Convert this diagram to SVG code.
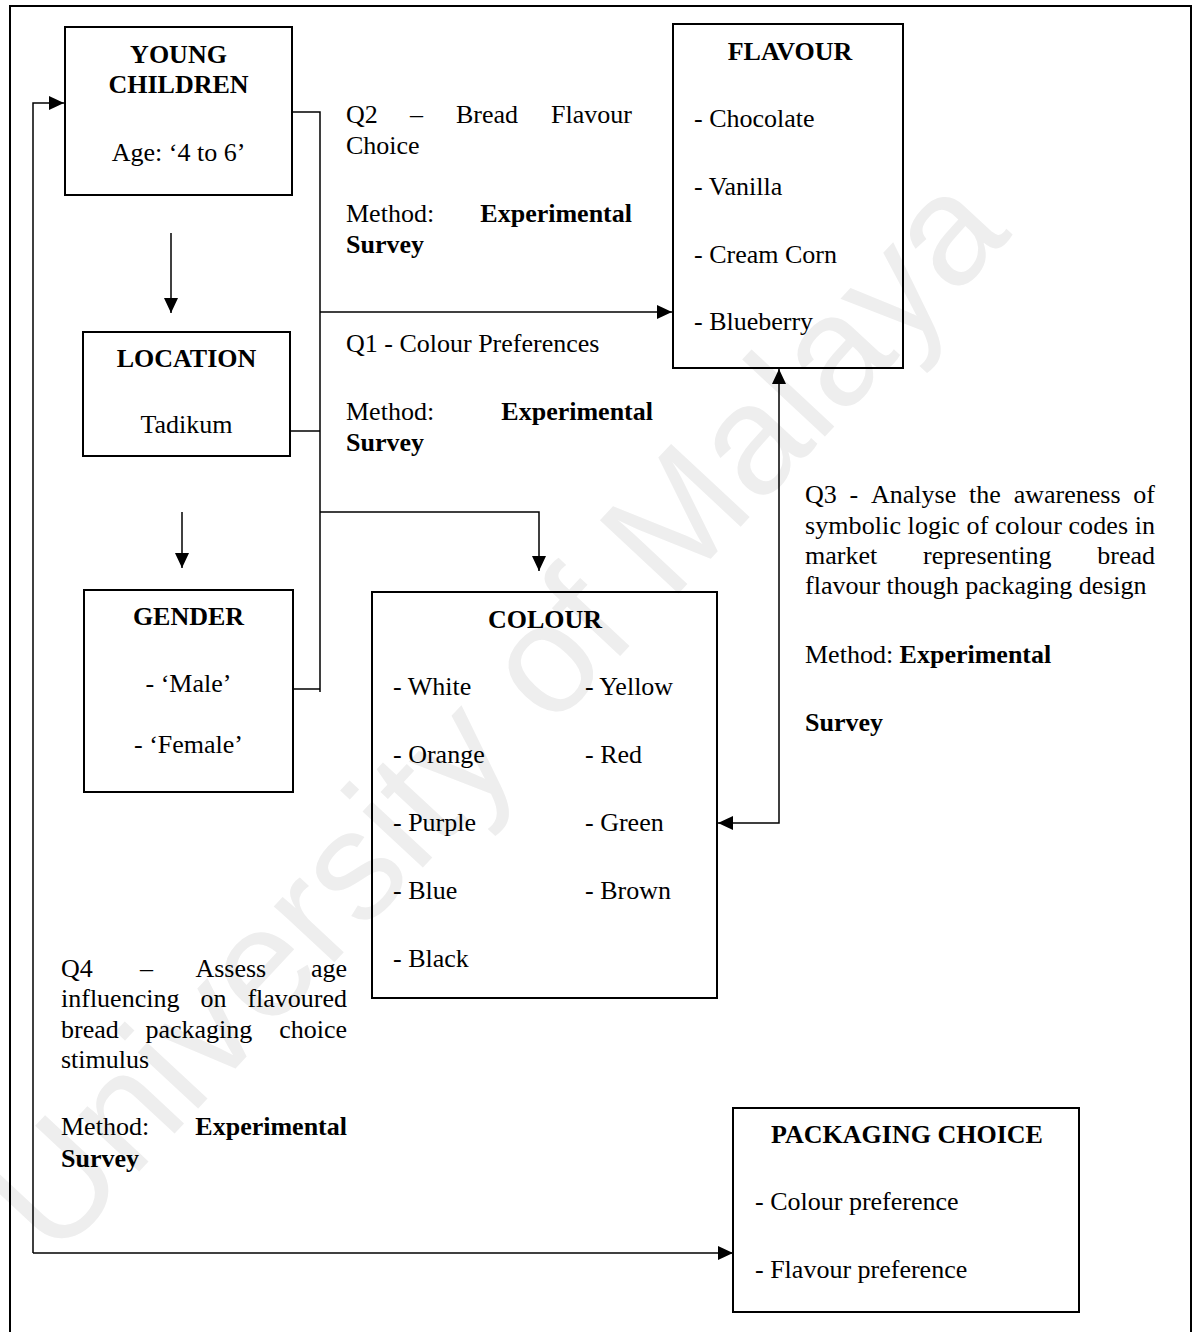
<svg xmlns="http://www.w3.org/2000/svg" width="1197" height="1332" viewBox="0 0 1197 1332">
<style>
  .box { fill: none; stroke: #000; stroke-width: 2; }
  .line { fill: none; stroke: #000; stroke-width: 1.5; }
  text { font-family: "Liberation Serif", "Times New Roman", serif; font-size: 26px; fill: #000; }
  .b { font-weight: bold; }
  .c { text-anchor: middle; }
  .e { text-anchor: end; }
  .wm { font-family: "Liberation Sans", Arial, sans-serif; font-size: 156px; fill: #eeeeee; }
</style>
<defs>
  <marker id="arr" markerWidth="16" markerHeight="14" refX="15" refY="7" orient="auto-start-reverse" markerUnits="userSpaceOnUse">
    <path d="M0,0 L15,7 L0,14 Z" fill="#000"/>
  </marker>
</defs>
<rect width="1197" height="1332" fill="#fff"/>
<g id="watermark">
  <text class="wm" x="55" y="1262" transform="rotate(-47 55 1262)">University of Malaya</text>
</g>
<rect x="10" y="6" width="1181" height="1340" class="box"/>
<g id="connectors">
  <path class="line" d="M33,1253 V103 H64" marker-end="url(#arr)"/>
  <path class="line" d="M33,1253 H733" marker-end="url(#arr)"/>
  <path class="line" d="M292,112 H320 V692"/>
  <path class="line" d="M290,431 H320"/>
  <path class="line" d="M293,689 H320"/>
  <path class="line" d="M320,312 H672" marker-end="url(#arr)"/>
  <path class="line" d="M320,512 H539 V571" marker-end="url(#arr)"/>
  <path class="line" d="M171,233 V313" marker-end="url(#arr)"/>
  <path class="line" d="M182,512 V568" marker-end="url(#arr)"/>
  <path class="line" d="M718,823 H779 V369" marker-start="url(#arr)" marker-end="url(#arr)"/>
</g>
<g id="young-children">
  <rect x="65" y="27" width="227" height="168" class="box"/>
  <text class="b c" x="178.5" y="63">YOUNG</text>
  <text class="b c" x="178.5" y="93">CHILDREN</text>
  <text class="c" x="178.5" y="161">Age: ‘4 to 6’</text>
</g>
<g id="location">
  <rect x="83" y="332" width="207" height="124" class="box"/>
  <text class="b c" x="186.5" y="367">LOCATION</text>
  <text class="c" x="186.5" y="433">Tadikum</text>
</g>
<g id="gender">
  <rect x="84" y="590" width="209" height="202" class="box"/>
  <text class="b c" x="188.5" y="625">GENDER</text>
  <text class="c" x="188.5" y="692">- ‘Male’</text>
  <text class="c" x="188.5" y="753">- ‘Female’</text>
</g>
<g id="flavour">
  <rect x="673" y="24" width="230" height="344" class="box"/>
  <text class="b c" x="790" y="60">FLAVOUR</text>
  <text x="694" y="127">- Chocolate</text>
  <text x="694" y="195">- Vanilla</text>
  <text x="694" y="263">- Cream Corn</text>
  <text x="694" y="330">- Blueberry</text>
</g>
<g id="colour">
  <rect x="372" y="592" width="345" height="406" class="box"/>
  <text class="b c" x="545" y="628">COLOUR</text>
  <text x="393" y="695">- White</text>
  <text x="393" y="763">- Orange</text>
  <text x="393" y="831">- Purple</text>
  <text x="393" y="899">- Blue</text>
  <text x="393" y="967">- Black</text>
  <text x="585" y="695">- Yellow</text>
  <text x="585" y="763">- Red</text>
  <text x="585" y="831">- Green</text>
  <text x="585" y="899">- Brown</text>
</g>
<g id="packaging-choice">
  <rect x="733" y="1108" width="346" height="204" class="box"/>
  <text class="b c" x="907" y="1143">PACKAGING CHOICE</text>
  <text x="755" y="1210">- Colour preference</text>
  <text x="755" y="1278">- Flavour preference</text>
</g>
<g id="labels">
  <g id="q2">
    <text x="346" y="123">Q2</text>
    <text x="410" y="123">–</text>
    <text x="456" y="123">Bread</text>
    <text class="e" x="632" y="123">Flavour</text>
    <text x="346" y="154">Choice</text>
    <text x="346" y="222">Method:</text>
    <text class="b e" x="632" y="222">Experimental</text>
    <text class="b" x="346" y="253">Survey</text>
  </g>
  <g id="q1">
    <text x="346" y="352">Q1 - Colour Preferences</text>
    <text x="346" y="420">Method:</text>
    <text class="b e" x="653" y="420">Experimental</text>
    <text class="b" x="346" y="451">Survey</text>
  </g>
  <g id="q3">
    <text x="805" y="503">Q3</text>
    <text x="849.6" y="503">-</text>
    <text x="871" y="503">Analyse</text>
    <text x="969" y="503">the</text>
    <text x="1013.7" y="503">awareness</text>
    <text class="e" x="1155" y="503">of</text>
    <text x="805" y="534" textLength="350" lengthAdjust="spacing">symbolic logic of colour codes in</text>
    <text x="805" y="564">market</text>
    <text x="923" y="564">representing</text>
    <text class="e" x="1155" y="564">bread</text>
    <text x="805" y="594">flavour though packaging design</text>
    <text x="805" y="663">Method: <tspan class="b">Experimental</tspan></text>
    <text class="b" x="805" y="731">Survey</text>
  </g>
  <g id="q4">
    <text x="61" y="977">Q4</text>
    <text x="140" y="977">–</text>
    <text x="195.4" y="977">Assess</text>
    <text class="e" x="347" y="977">age</text>
    <text x="61" y="1007">influencing</text>
    <text x="200.4" y="1007">on</text>
    <text class="e" x="347" y="1007">flavoured</text>
    <text x="61" y="1038">bread</text>
    <text x="145.5" y="1038">packaging</text>
    <text class="e" x="347" y="1038">choice</text>
    <text x="61" y="1068">stimulus</text>
    <text x="61" y="1135">Method:</text>
    <text class="b e" x="347" y="1135">Experimental</text>
    <text class="b" x="61" y="1167">Survey</text>
  </g>
</g>
</svg>
